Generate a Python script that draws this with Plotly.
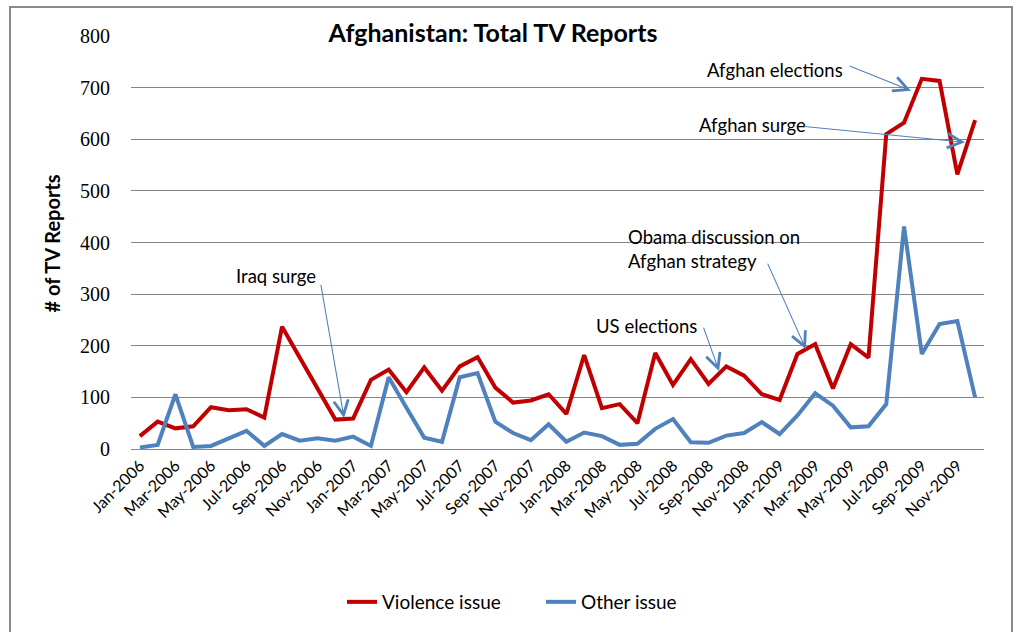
import plotly.graph_objects as go

# Monthly categories, Jan-2006 .. Dec-2009
month_names = ["Jan", "Feb", "Mar", "Apr", "May", "Jun",
               "Jul", "Aug", "Sep", "Oct", "Nov", "Dec"]
years = [2006, 2007, 2008, 2009]
months = [f"{m}-{y}" for y in years for m in month_names]

# Number of TV reports per month
violence_issue = [25, 53, 40, 44, 81, 75, 77, 61, 237, 178, 116, 57,
                  59, 134, 154, 110, 158, 113, 160, 178, 119, 90, 94, 106,
                  68, 182, 79, 87, 50, 186, 124, 174, 126, 160, 142, 106,
                  95, 184, 203, 117, 203, 177, 610, 632, 717, 713, 532, 637]
other_issue = [3, 8, 106, 4, 6, 21, 35, 6, 29, 16, 21, 16,
               24, 6, 139, 80, 22, 14, 139, 147, 53, 31, 17, 48,
               14, 32, 25, 8, 10, 39, 58, 13, 12, 26, 31, 52,
               29, 65, 108, 84, 42, 44, 87, 431, 184, 242, 248, 100]

# Tick labels every second month
tick_labels = months[::2]
y_ticks = [0, 100, 200, 300, 400, 500, 600, 700, 800]

RED = "#C00000"
BLUE = "#4F81BD"
GRID = "#868686"
SANS = "Lato, Carlito, Calibri, sans-serif"
SERIF = "Liberation Serif, Times New Roman, serif"

W, H = 1016, 632
L, R, T, B = 131, 32, 36, 182
PW, PH = W - L - R, H - T - B


def px_x(x):
    return (x - L) / PW


def px_y(y):
    return (H - B - y) / PH


fig = go.Figure()
fig.add_trace(go.Scatter(x=months, y=violence_issue, mode="lines",
                         name="Violence issue",
                         line=dict(color=RED, width=4)))
fig.add_trace(go.Scatter(x=months, y=other_issue, mode="lines",
                         name="Other issue",
                         line=dict(color=BLUE, width=4)))

# Event labels
labels = [
    ("Iraq surge", 276, 277, "center"),
    ("US elections", 646, 327, "center"),
    ("Obama discussion on<br>Afghan strategy", 626, 250, "left"),
    ("Afghan elections", 705, 70, "left"),
    ("Afghan surge", 697, 125, "left"),
]
for text, x, y, align in labels:
    fig.add_annotation(text=text, xref="paper", yref="paper",
                       x=px_x(x), y=px_y(y),
                       xanchor=align, yanchor="middle", align=align,
                       showarrow=False,
                       font=dict(family=SANS, size=18.5, color="black"))

# Event arrows: (tail index, tail value, head index, head value)
arrows = [
    (10.17, 321, 11.49, 60),
    (31.69, 238, 32.59, 151),
    (35.29, 362, 37.48, 193),
    (39.85, 743, 43.39, 694),
    (37.31, 625, 46.43, 594),
]
for tx, ty, hx, hy in arrows:
    fig.add_annotation(text="", x=hx, y=hy, ax=tx, ay=ty,
                       xref="x", yref="y", axref="x", ayref="y",
                       showarrow=True, arrowhead=5, arrowsize=2.6,
                       arrowwidth=1.1, arrowcolor=BLUE)

# Y-axis title
fig.add_annotation(text="<b># of TV Reports</b>", xref="paper", yref="paper",
                   x=px_x(52), y=px_y(244), textangle=-90, showarrow=False,
                   xanchor="center", yanchor="middle",
                   font=dict(family=SANS, size=20, color="black"))

# Chart border
fig.add_shape(type="rect", xref="paper", yref="paper",
              x0=px_x(10), x1=px_x(1012), y0=px_y(660), y1=px_y(7),
              line=dict(color="#898989", width=2), fillcolor="rgba(0,0,0,0)",
              layer="below")

fig.update_layout(
    width=W, height=H,
    margin=dict(l=L, r=R, t=T, b=B),
    paper_bgcolor="white", plot_bgcolor="white",
    title=dict(text="<b>Afghanistan: Total TV Reports</b>",
               x=493 / W, y=1 - 33 / H, xanchor="center", yanchor="middle",
               xref="container", yref="container",
               font=dict(family=SANS, size=25, color="black")),
    showlegend=True,
    legend=dict(orientation="h", x=px_x(342), y=px_y(602),
                xanchor="left", yanchor="middle",
                entrywidth=154, entrywidthmode="pixels",
                font=dict(family=SANS, size=19, color="black"),
                bgcolor="rgba(0,0,0,0)"),
    xaxis=dict(type="category", categoryorder="array", categoryarray=months,
               tickmode="array", tickvals=tick_labels, ticktext=tick_labels,
               tickangle=-45, showgrid=False, showline=True,
               linecolor=GRID, linewidth=1, ticks="",
               tickfont=dict(family=SANS, size=16, color="black"),
               range=[-0.5, len(months) - 0.5]),
    yaxis=dict(range=[0, 800], tickmode="array", tickvals=y_ticks,
               showgrid=True, gridcolor=GRID, gridwidth=1,
               zeroline=False, showline=False, ticks="",
               ticklabelstandoff=20,
               tickfont=dict(family=SERIF, size=20, color="black")),
)

fig.write_html("out.html")
